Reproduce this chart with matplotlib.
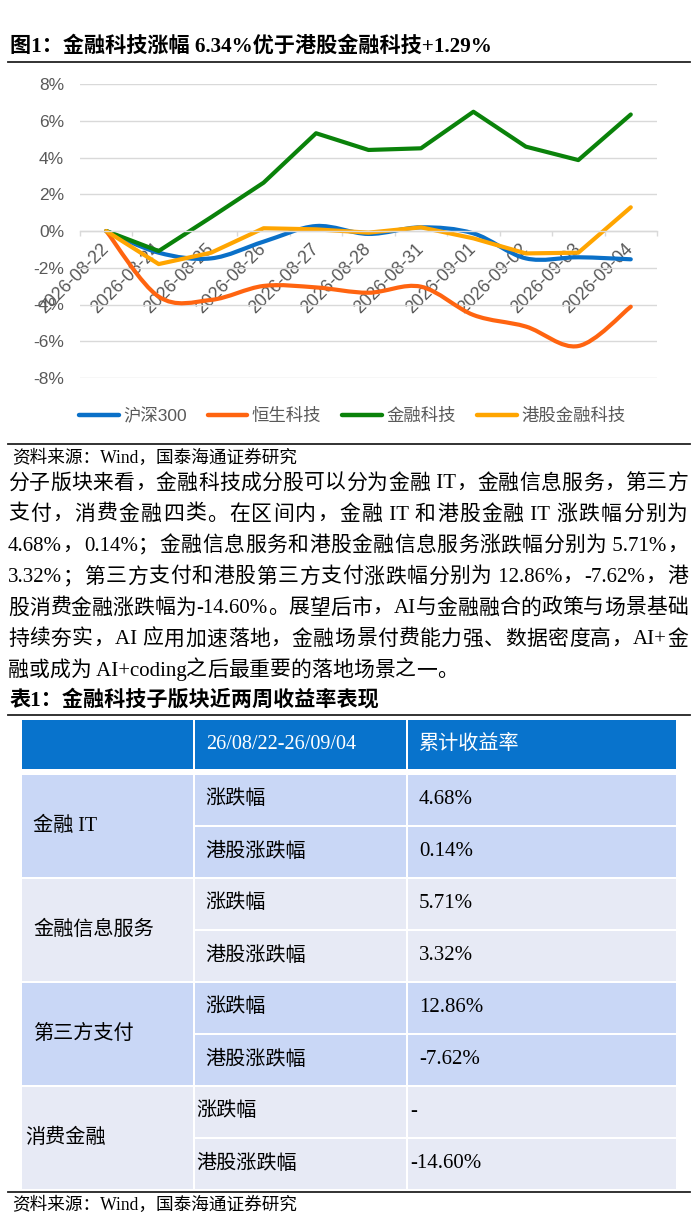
import re
import numpy as np
import matplotlib
matplotlib.use('Agg')
import matplotlib.pyplot as plt
from matplotlib.path import Path
from matplotlib.patches import PathPatch, Rectangle
from matplotlib.lines import Line2D
from matplotlib.ticker import FuncFormatter, FixedLocator

# ---------------- data ----------------
dates = ['2026-08-22', '2026-08-24', '2026-08-25', '2026-08-26', '2026-08-27',
         '2026-08-28', '2026-08-31', '2026-09-01', '2026-09-02', '2026-09-03', '2026-09-04']
hs300 = [0.00, -1.18, -1.49, -0.58, 0.27, -0.16, 0.20, -0.13, -1.49, -1.43, -1.54]
hstech = [0.00, -3.57, -3.75, -2.99, -3.07, -3.36, -3.03, -4.57, -5.20, -6.26, -4.12]
fintech = [0.00, -1.09, 0.75, 2.63, 5.32, 4.41, 4.50, 6.49, 4.59, 3.86, 6.34]
hk_fintech = [0.00, -1.80, -1.18, 0.15, 0.09, -0.09, 0.20, -0.40, -1.22, -1.18, 1.29]
series_names = ['沪深300', '恒生科技', '金融科技', '港股金融科技']
yticks = [-8, -6, -4, -2, 0, 2, 4, 6, 8]

title1 = '图1：金融科技涨幅 6.34%优于港股金融科技+1.29%'
source = '资料来源：Wind，国泰海通证券研究'
para_lines = [
    '分子版块来看，金融科技成分股可以分为金融 IT，金融信息服务，第三方',
    '支付，消费金融四类。在区间内，金融 IT 和港股金融 IT 涨跌幅分别为',
    '4.68%，0.14%；金融信息服务和港股金融信息服务涨跌幅分别为 5.71%，',
    '3.32%；第三方支付和港股第三方支付涨跌幅分别为 12.86%，-7.62%，港',
    '股消费金融涨跌幅为-14.60%。展望后市，AI与金融融合的政策与场景基础',
    '持续夯实，AI 应用加速落地，金融场景付费能力强、数据密度高，AI+金',
    '融或成为 AI+coding之后最重要的落地场景之一。',
]
title2 = '表1：金融科技子版块近两周收益率表现'
header = ['', '26/08/22-26/09/04', '累计收益率']
groups = ['金融 IT', '金融信息服务', '第三方支付', '消费金融']
sub_labels = ['涨跌幅', '港股涨跌幅']
values = [['4.68%', '0.14%'], ['5.71%', '3.32%'], ['12.86%', '-7.62%'], ['-', '-14.60%']]

# ---------------- styles ----------------
W, H = 696, 1219
c_blue, c_orange, c_green, c_yellow = '#0A70C8', '#FF6410', '#0A820A', '#FFA500'
gray_txt = '#595959'
grid_c = '#D9D9D9'
cjk_serif = ['Liberation Serif', 'Noto Sans CJK SC']
cjk_sans = ['Liberation Sans', 'Noto Sans CJK SC']

fig = plt.figure(figsize=(W / 100, H / 100), dpi=100)
fig.patch.set_facecolor('white')

# overlay axes in pixel coordinates for text / table
axT = fig.add_axes([0, 0, 1, 1], zorder=0)
axT.set_xlim(0, W)
axT.set_ylim(H, 0)
axT.axis('off')

# ---------------- chart ----------------
ax = fig.add_axes([80 / W, 1 - 378 / H, 577 / W, 294 / H], zorder=1)
ax.patch.set_alpha(0)
n = len(dates)
x = np.arange(n)
ax.set_xlim(-0.5, n - 0.5)
ax.set_ylim(-8, 8)
ax.set_axisbelow(True)


def smooth_path(xs, ys):
    pts = np.column_stack([xs, ys]).astype(float)
    verts = [pts[0]]
    codes = [Path.MOVETO]
    m = len(pts)
    for i in range(m - 1):
        p0 = pts[i - 1] if i > 0 else pts[i]
        p1 = pts[i]
        p2 = pts[i + 1]
        p3 = pts[i + 2] if i + 2 < m else pts[i + 1]
        c1 = p1 + (p2 - p0) / 6.0
        c2 = p2 - (p3 - p1) / 6.0
        verts += [c1, c2, p2]
        codes += [Path.CURVE4] * 3
    return Path(verts, codes)


lw = 3.0
for ys, col in [(hs300, c_blue), (hstech, c_orange)]:
    ax.add_patch(PathPatch(smooth_path(x, ys), fill=False, edgecolor=col, lw=lw,
                           capstyle='round', joinstyle='round', zorder=2))
ax.plot(x, fintech, color=c_green, lw=lw, solid_capstyle='round', solid_joinstyle='round', zorder=2)
ax.plot(x, hk_fintech, color=c_yellow, lw=lw, solid_capstyle='round', solid_joinstyle='round', zorder=2)

ax.yaxis.set_major_locator(FixedLocator(yticks))
ax.yaxis.set_major_formatter(FuncFormatter(lambda v, p: f'{v:.0f}%'))
ax.yaxis.grid(True, color=grid_c, lw=1.0)
ax.tick_params(axis='y', length=0, pad=11.5, labelsize=12.5, labelcolor=gray_txt)
for lab in ax.get_yticklabels():
    lab.set_family(cjk_sans)

for s in ['top', 'right', 'left']:
    ax.spines[s].set_visible(False)
ax.spines['bottom'].set_position(('data', 0))
ax.spines['bottom'].set_color(grid_c)
ax.spines['bottom'].set_linewidth(1.0)

ax.set_xticks(x)
ax.set_xticklabels(dates)
ax.set_xticks(np.arange(-0.5, n, 1.0), minor=True)
ax.tick_params(axis='x', which='major', length=0, pad=11, labelsize=12.8, labelcolor=gray_txt)
ax.tick_params(axis='x', which='minor', length=3.8, width=1.0, color=grid_c, direction='out')
for lab in ax.get_xticklabels():
    lab.set_rotation(45)
    lab.set_ha('right')
    lab.set_va('center')
    lab.set_rotation_mode('anchor')
    lab.set_family(cjk_sans)

handles = [Line2D([], [], color=c, lw=3.2, solid_capstyle='round')
           for c in [c_blue, c_orange, c_green, c_yellow]]
fig.legend(handles, series_names, loc='center', bbox_to_anchor=(352 / W, 1 - 416 / H),
           ncol=4, frameon=False, prop={'family': cjk_sans, 'size': 12.5},
           handlelength=2.3, handletextpad=0.25, columnspacing=1.2, labelcolor=gray_txt)

# ---------------- texts ----------------
renderer = fig.canvas.get_renderer()


def place_line(text, y, x0, x1, justify, **kw):
    tokens = re.findall(r'[\x20-\x7e]+|.', text)
    arts, widths = [], []
    for tok in tokens:
        t = axT.text(0, y, tok, va='center', ha='left', **kw)
        widths.append(t.get_window_extent(renderer).width)
        arts.append(t)
    gap = 0.0
    if justify and len(tokens) > 1:
        gap = (x1 - x0 - sum(widths)) / (len(tokens) - 1)
    xx = x0
    for t, w in zip(arts, widths):
        t.set_x(xx)
        xx += w + gap


axT.text(10, 47, title1, fontsize=15.2, fontweight='bold', family=cjk_serif, va='center')
axT.plot([8, 690], [62, 62], color='#222222', lw=1.3)
axT.plot([8, 690], [444, 444], color='#222222', lw=1.3)
axT.text(12, 458, source, fontsize=12.7, family=cjk_serif, va='center')

para_y0, para_dy = 484, 31.2
for i, line in enumerate(para_lines):
    place_line(line, para_y0 + i * para_dy, 8, 688, i < len(para_lines) - 1,
               fontsize=15.0, family=cjk_serif, color='black')

axT.text(10, 700, title2, fontsize=15.2, fontweight='bold', family=cjk_serif, va='center')
axT.plot([8, 690], [715, 715], color='#222222', lw=1.3)

# ---------------- table ----------------
col_x = [(22, 192.7), (194.7, 405.5), (407.8, 675.5)]
head_c = '#0873CC'
fills = ['#C9D7F6', '#E7EAF5']
head_y0, head_y1 = 720, 769
for (a, b) in col_x:
    axT.add_patch(Rectangle((a, head_y0), b - a, head_y1 - head_y0, color=head_c, lw=0))
head_pad = [11, 11, 11]
for j, txt in enumerate(header):
    if txt:
        axT.text(col_x[j][0] + head_pad[j], (head_y0 + head_y1) / 2, txt, color='white',
                 fontsize=14.5, family=cjk_serif, va='center')

g_top0, g_step, sub_h, sub_gap = 775, 104, 50, 2
group_pad = [11, 11, 11, 3]
sub_pad = [11, 11, 11, 2]
for g, gname in enumerate(groups):
    top = g_top0 + g * g_step
    gh = 2 * sub_h + sub_gap
    col = fills[g % 2]
    axT.add_patch(Rectangle((col_x[0][0], top), col_x[0][1] - col_x[0][0], gh, color=col, lw=0))
    axT.text(col_x[0][0] + group_pad[g], top + gh / 2, gname, fontsize=14.5,
             family=cjk_serif, va='center')
    for k in range(2):
        sy = top + k * (sub_h + sub_gap)
        for j in (1, 2):
            a, b = col_x[j]
            axT.add_patch(Rectangle((a, sy), b - a, sub_h, color=col, lw=0))
        axT.text(col_x[1][0] + sub_pad[g], sy + sub_h / 2, sub_labels[k], fontsize=14.5,
                 family=cjk_serif, va='center')
        axT.text(col_x[2][0] + sub_pad[g], sy + sub_h / 2, values[g][k], fontsize=15,
                 family=cjk_serif, va='center')

axT.plot([8, 690], [1192, 1192], color='#222222', lw=1.3)
axT.text(12, 1205, source, fontsize=12.7, family=cjk_serif, va='center')

fig.savefig('out.png', dpi=100, facecolor='white')
